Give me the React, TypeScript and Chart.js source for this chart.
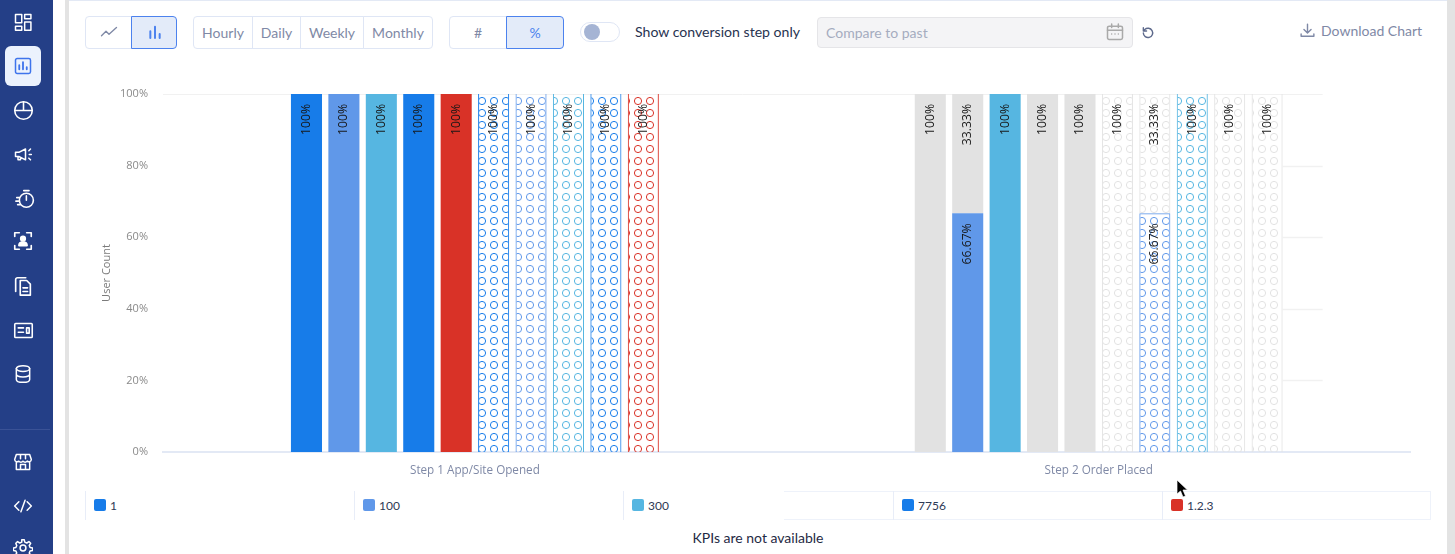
import React, { useEffect, useRef } from "react";
import { Chart, registerables } from "chart.js";

Chart.register(...registerables);

const FONT = "Lato, 'Open Sans', sans-serif";
const CHART_FONT = "'Open Sans', sans-serif";

const categories = ["Step 1 App/Site Opened", "Step 2 Order Placed"];
const yTicks = [0, 20, 40, 60, 80, 100];
const legendLabels = ["1", "100", "300", "7756", "1.2.3"];

const BLUE = "#177ce9";
const PERI = "#6098e9";
const SKY = "#56b6e1";
const RED = "#d93227";
const GREY = "#e2e2e2";
const legendColors = [BLUE, PERI, SKY, BLUE, RED];

const stackIds = ["a", "b", "c", "d", "e", "f", "g", "h", "i", "j"];
const lowerValues = [
  [100, 100], [100, 66.67], [100, 100], [100, 100], [100, 100],
  [100, 100], [100, 66.67], [100, 100], [100, 100], [100, 100],
];
const lowerColors = [
  [BLUE, GREY], [PERI, PERI], [SKY, SKY], [BLUE, GREY], [RED, GREY],
  [BLUE, GREY], [PERI, PERI], [SKY, SKY], [BLUE, GREY], [RED, GREY],
];
const isPatterned = [false, false, false, false, false, true, true, true, true, true];
const upperStacks = ["b", "g"];
const upperValues = [[0, 33.33], [0, 33.33]];
const upperPatterned = [false, true];

function makePattern(color: string) {
  const tile = document.createElement("canvas");
  tile.width = 12;
  tile.height = 12;
  const c = tile.getContext("2d")!;
  c.strokeStyle = color;
  c.lineWidth = 1;
  c.beginPath();
  c.arc(6, 6, 3.6, 0, Math.PI * 2);
  c.stroke();
  const p = c.createPattern(tile, "repeat")!;
  p.setTransform(new DOMMatrix().translate(2, 1));
  return p;
}

const barLabels = {
  id: "barLabels",
  afterDatasetsDraw(chart: any) {
    const { ctx } = chart;
    chart.data.datasets.forEach((ds: any, i: number) => {
      chart.getDatasetMeta(i).data.forEach((el: any, j: number) => {
        const v = ds.data[j];
        if (!v) return;
        ctx.save();
        ctx.translate(el.x, el.y + 10);
        ctx.rotate(-Math.PI / 2);
        ctx.textAlign = "right";
        ctx.textBaseline = "middle";
        ctx.font = `12.2px ${CHART_FONT}`;
        ctx.fillStyle = "#161616";
        ctx.fillText(`${v}%`, 0, 0);
        ctx.restore();
      });
    });
  },
};

const fadedGrid = {
  id: "fadedGrid",
  beforeDatasetsDraw(chart: any) {
    const { ctx, scales } = chart;
    const { x, y } = scales;
    const band = x.getPixelForValue(1) - x.getPixelForValue(0);
    const end = x.getPixelForValue(1) + band * 0.359;
    const start = x.getPixelForValue(1) + band * 0.295;
    ctx.save();
    ctx.strokeStyle = "#f1f1f1";
    y.ticks.forEach((t: any) => {
      if (t.value === 0) return;
      const py = Math.round(y.getPixelForValue(t.value));
      ctx.lineWidth = t.value === 100 ? 1 : 1.5;
      ctx.beginPath();
      ctx.moveTo(t.value === 100 ? x.left : start, py + 0.5);
      ctx.lineTo(end, py + 0.5);
      ctx.stroke();
    });
    ctx.restore();
  },
};

function Ico({ x, y, size = 20, color = "#fff", sw = 1.8, children }: any) {
  return (
    <svg
      width={size}
      height={size}
      viewBox="0 0 24 24"
      fill="none"
      stroke={color}
      strokeWidth={sw}
      strokeLinecap="round"
      strokeLinejoin="round"
      style={{ position: "absolute", left: x - size / 2, top: y - size / 2 }}
    >
      {children}
    </svg>
  );
}

function Box({ l, t, w, h, style, children }: any) {
  return (
    <div style={{ position: "absolute", left: l, top: t, width: w, height: h, boxSizing: "border-box", ...style }}>
      {children}
    </div>
  );
}

function Btn({ l, r, label, active, first, last, children }: any) {
  return (
    <Box
      l={l}
      t={16}
      w={last ? r - l : r - l + 1}
      h={33}
      style={{
        border: `1px solid ${active ? "#4c82ee" : "#dfe6f5"}`,
        background: active ? "#e3ebf9" : "#fff",
        borderRadius: `${first ? 4 : 0}px ${last ? 4 : 0}px ${last ? 4 : 0}px ${first ? 4 : 0}px`,
        color: active ? "#4c82ee" : "#7f89a6",
        font: `14px ${FONT}`,
        display: "flex",
        alignItems: "center",
        justifyContent: "center",
        zIndex: active ? 1 : 0,
      }}
    >
      {label}
      {children}
    </Box>
  );
}

const legendEdges = [85, 354, 623, 893, 1162];

export default function App() {
  const ref = useRef<HTMLCanvasElement>(null);

  useEffect(() => {
    const fill = (color: string, pat: boolean) => (pat ? makePattern(color) : color);
    const sides = { left: 1, right: 1, top: 0, bottom: 0 };
    const lower = stackIds.map((stack, i) => ({
      label: stack,
      stack,
      data: lowerValues[i],
      backgroundColor: lowerColors[i].map((c) => fill(c, isPatterned[i])),
      borderColor: lowerColors[i],
      borderWidth: isPatterned[i]
        ? lowerValues[i].map((v) => (v < 100 ? { ...sides, top: 1 } : sides))
        : 0,
      borderSkipped: false,
    }));
    const upper = upperStacks.map((stack, i) => ({
      label: stack + "2",
      stack,
      data: upperValues[i],
      backgroundColor: fill(GREY, upperPatterned[i]),
      borderColor: GREY,
      borderWidth: upperPatterned[i] ? sides : 0,
      borderSkipped: false,
    }));
    const chart = new Chart(ref.current!, {
      type: "bar",
      data: { labels: categories, datasets: [...lower, ...upper] as any },
      plugins: [fadedGrid, barLabels],
      options: {
        animation: false,
        responsive: false,
        maintainAspectRatio: false,
        layout: { padding: { top: 24, right: 19.4, left: 0, bottom: 0 } },
        datasets: { bar: { categoryPercentage: 0.6, barPercentage: 0.83 } },
        plugins: { legend: { display: false }, tooltip: { enabled: false } },
        scales: {
          x: {
            stacked: true,
            grid: { display: false, drawTicks: false },
            border: { display: true, color: "#e3e9f5", width: 2 },
            ticks: { color: "#7f89a6", font: { size: 11.7, family: CHART_FONT }, padding: 12, maxRotation: 0 },
            afterFit: (s: any) => { s.height = 38; },
          },
          y: {
            stacked: true,
            min: 0,
            max: 100,
            afterBuildTicks: (s: any) => { s.ticks = yTicks.map((value) => ({ value })); },
            grid: { display: false, drawTicks: false },
            border: { display: false },
            ticks: { color: "#8a8a8a", font: { size: 11, family: CHART_FONT }, padding: 15, callback: (v: any) => `${v}%` },
            title: { display: true, text: "User Count", color: "#7b7b7b", font: { size: 11, family: CHART_FONT }, padding: { top: 10, bottom: 0 } },
            afterFit: (s: any) => { s.width = 73; },
          },
        },
      } as any,
    });
    return () => chart.destroy();
  }, []);

  return (
    <div style={{ position: "fixed", left: 0, top: 0, width: 1455, height: 554, overflow: "hidden", background: "#fff", fontFamily: FONT }}>
      {/* page frame */}
      <Box l={0} t={0} w={53} h={554} style={{ background: "#243f87" }} />
      <Box l={65} t={0} w={4} h={554} style={{ background: "#e3e3e3" }} />
      <Box l={1447} t={0} w={8} h={554} style={{ background: "#e3e3e3" }} />
      <Box l={69} t={0} w={1378} h={1} style={{ background: "#e3e9f5" }} />

      {/* sidebar */}
      <Box l={5} t={46} w={36} h={40} style={{ background: "#ebf2fd", borderRadius: 6 }} />
      <Box l={0} t={429} w={50} h={1} style={{ background: "#3a5296" }} />
      <Ico x={23} y={22}><rect x="3" y="3" width="7.5" height="10" /><rect x="14" y="3" width="7.5" height="5" /><rect x="3" y="17" width="7.5" height="5" /><rect x="14" y="12" width="7.5" height="10" /></Ico>
      <Ico x={23} y={66} color="#3e74ec"><rect x="3" y="3" width="18" height="18" rx="2" /><path d="M7.5 16v-5M12 16V7.5M16.5 16v-2.5" strokeWidth="2.2" /></Ico>
      <Ico x={23} y={110} size={21}><circle cx="12" cy="12" r="10" /><path d="M12 2v10M2 12h20" /></Ico>
      <Ico x={23} y={154}><path d="M3 10v5h4l8 4V6l-8 4H3zM6 15v4h3v-3" /><path d="M19 8l2-2M19.500 12.500h2.500M19 17l2 2" /></Ico>
      <Ico x={25} y={198} size={21}><circle cx="13" cy="14" r="8" /><path d="M10 3h6M13 14V9M2 11h3M1 15h3M3 19h3" /></Ico>
      <Ico x={23} y={241} size={22}><path d="M3 7V3h5M16 3h5v4M21 17v4h-5M8 21H3v-4" /><circle cx="12" cy="9.500" r="2.500" fill="#fff" /><path d="M7.500 17c0-5 9-5 9 0z" fill="#fff" /></Ico>
      <Ico x={23} y={286} size={22}><path d="M15 3H6a2 2 0 0 0-2 2v13" /><path d="M9 6h7l4 4v12H9zM12 14h5M12 18h5" /></Ico>
      <Ico x={23} y={330} size={21}><rect x="2" y="4" width="20" height="16" rx="1" /><path d="M6 9h6M6 14h6" /><rect x="15.500" y="9" width="3" height="6" /></Ico>
      <Ico x={23} y={374}><ellipse cx="12" cy="5.500" rx="8" ry="3.500" /><path d="M4 5.500v13c0 2 3.600 3.500 8 3.500s8-1.500 8-3.500v-13M4 12c0 2 3.600 3.500 8 3.500s8-1.500 8-3.500" /></Ico>
      <Ico x={23} y={462}><path d="M4 3h16l2 6a3 3 0 0 1-5 2 3 3 0 0 1-5 0 3 3 0 0 1-5 0 3 3 0 0 1-5-2zM4 12v9h16v-9M9 21v-6h6v6M9 3v5M15 3v5" /></Ico>
      <Ico x={23} y={506}><path d="M7 7l-5 5 5 5M17 7l5 5-5 5M14.500 5l-5 14" /></Ico>
      <Ico x={23} y={548}><circle cx="12" cy="12" r="3.500" /><path d="M10.500 2h3l.6 3 2.400 1 2.600-1.700 2.100 2.100-1.700 2.600 1 2.400 3 .6v3l-3 .6-1 2.400 1.700 2.600-2.100 2.100-2.600-1.700-2.400 1-.6 3h-3l-.6-3-2.400-1-2.600 1.700-2.100-2.100 1.700-2.600-1-2.400-3-.6v-3l3-.6 1-2.400L3.400 6.400l2.100-2.100 2.600 1.700 2.400-1z" /></Ico>

      {/* toolbar */}
      <Btn l={85} r={131} first><Ico x={23} y={15} size={18} color="#7f89a6"><path d="M2 17l6-6 4 4 10-9" /></Ico></Btn>
      <Btn l={131} r={177} active last><Ico x={23} y={15} size={16} color="#4c82ee" sw={3}><path d="M5 21V11M12 21V4M19 21v-6" /></Ico></Btn>
      <Btn l={193} r={252} label="Hourly" first />
      <Btn l={252} r={300} label="Daily" />
      <Btn l={300} r={363} label="Weekly" />
      <Btn l={363} r={433} label="Monthly" last />
      <Btn l={449} r={506} label="#" first />
      <Btn l={506} r={564} label="%" active last />
      <Box l={580} t={22} w={40} h={20} style={{ border: "1px solid #dfe6f5", borderRadius: 10 }} />
      <Box l={584} t={24} w={16} h={16} style={{ background: "#a5b4d4", borderRadius: 8 }} />
      <Box l={635} t={22} w={180} h={20} style={{ color: "#283350", font: `14.1px/20px ${FONT}` }}>Show conversion step only</Box>
      <Box l={817} t={17} w={316} h={31} style={{ background: "#f4f4f6", border: "1px solid #e5e5e8", borderRadius: 4, color: "#a5acbf", font: `14px/29px ${FONT}`, paddingLeft: 8 }}>Compare to past</Box>
      <Ico x={1115} y={32} size={20} color="#a9a9a9"><rect x="3" y="5" width="18" height="16" rx="2" /><path d="M3 10h18M8 2.500v4M16 2.500v4M8 14.500h.01M12 14.500h.01M16 14.500h.01" /></Ico>
      <Ico x={1148} y={33} size={14} color="#5e6a8c" sw={2.400}><path d="M4 12a8 8 0 1 0 2.500-6L4 8.500M4 3v5.500h5.500" /></Ico>
      <Ico x={1307} y={30} size={17} color="#7f89a6" sw={2}><path d="M12 3v12M7 10.500l5 5 5-5M3 17v3h18v-3" /></Ico>
      <Box l={1321} t={21} w={110} h={20} style={{ color: "#7f89a6", font: `14px/20px ${FONT}` }}>Download Chart</Box>

      {/* legend */}
      <Box l={784} t={491} w={647} h={29} style={{ borderTop: "1px solid #eef2fa", borderBottom: "1px solid #eef2fa", borderRight: "1px solid #eef2fa" }} />
      {legendLabels.map((label, i) => (
        <Box key={label} l={legendEdges[i]} t={491} w={269} h={29} style={{ borderLeft: "1px solid #e8edf8" }}>
          <Box l={8} t={8} w={12} h={12} style={{ background: legendColors[i], borderRadius: 2 }} />
          <Box l={24} t={5} w={100} h={20} style={{ color: "#2f3a55", font: `12px/20px ${FONT}` }}>{label}</Box>
        </Box>
      ))}
      <Box l={558} t={529} w={400} h={18} style={{ textAlign: "center", color: "#1f2a44", font: `14px/18px ${FONT}` }}>KPIs are not available</Box>

      {/* chart */}
      <canvas ref={ref} width={1340} height={420} style={{ position: "absolute", left: 90, top: 70, width: 1340, height: 420 }} />

      {/* pointer */}
      <svg width="14" height="20" viewBox="0 0 14 20" style={{ position: "absolute", left: 1176, top: 479 }}>
        <path d="M1 1v14l3.500-3 2.500 6 2.500-1-2.500-6h4.500z" fill="#000" stroke="#fff" strokeWidth="0.7" />
      </svg>
    </div>
  );
}
